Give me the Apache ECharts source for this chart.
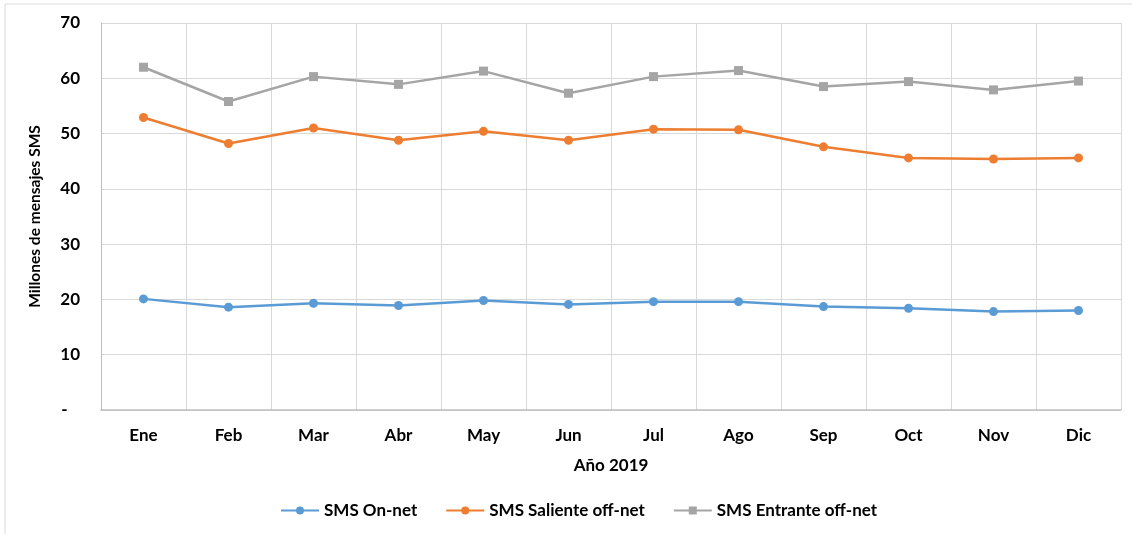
<!DOCTYPE html>
<html>
<head>
<meta charset="utf-8">
<script src="https://cdn.jsdelivr.net/npm/echarts@6/dist/echarts.min.js"></script>
<style>
  html, body { margin: 0; padding: 0; background: #fff; }
  #main { width: 1132px; height: 534px; }
</style>
</head>
<body>
<div id="main"></div>
<script>
const chart = echarts.init(document.getElementById("main"));

// datos
const months = ["Ene", "Feb", "Mar", "Abr", "May", "Jun", "Jul", "Ago", "Sep", "Oct", "Nov", "Dic"];
const smsOnNet = [20.1, 18.6, 19.3, 18.9, 19.8, 19.1, 19.6, 19.6, 18.7, 18.4, 17.8, 18.0];
const smsSaliente = [52.9, 48.2, 51.0, 48.8, 50.4, 48.8, 50.8, 50.7, 47.6, 45.6, 45.4, 45.6];
const smsEntrante = [62.0, 55.8, 60.3, 58.9, 61.3, 57.3, 60.3, 61.4, 58.5, 59.4, 57.9, 59.5];

const font = "Lato, 'Open Sans', sans-serif";

function serie(name, data, color, symbol, size) {
    return {
        name: name,
        type: "line",
        data: data,
        symbol: symbol,
        symbolSize: size,
        lineStyle: { color: color, width: 2.5 },
        itemStyle: { color: color },
        emphasis: { disabled: true }
    };
}

let option = {
    animation: false,
    textStyle: { fontFamily: font },
    graphic: [
        {
            type: "rect",
            shape: { x: 5, y: 4, width: 1140, height: 540 },
            style: { fill: "none", stroke: "#d9d9d9", lineWidth: 1 }
        }
    ],
    grid: { left: 101, right: 11, top: 23, bottom: 124 },
    legend: {
        left: 275,
        top: 497,
        itemWidth: 38,
        itemHeight: 10,
        itemGap: 28,
        textStyle: { fontFamily: font, fontWeight: "bold", fontSize: 17, color: "#000" },
        data: ["SMS On-net", "SMS Saliente off-net", "SMS Entrante off-net"]
    },
    xAxis: {
        type: "category",
        data: months,
        boundaryGap: true,
        name: "Año 2019",
        nameLocation: "middle",
        nameGap: 47,
        nameTextStyle: { fontFamily: font, fontWeight: "bold", fontSize: 17, color: "#000" },
        axisLine: { lineStyle: { color: "#bfbfbf", width: 1.5 } },
        axisTick: { show: false },
        axisLabel: { margin: 17, fontFamily: font, fontWeight: "bold", fontSize: 17, color: "#000" },
        splitLine: { show: true, lineStyle: { color: "#d9d9d9", width: 1 } }
    },
    yAxis: {
        type: "value",
        min: 0,
        max: 70,
        interval: 10,
        name: "Millones de mensajes SMS",
        nameLocation: "middle",
        nameGap: 58,
        nameTextStyle: { fontFamily: font, fontWeight: "bold", fontSize: 15.5, color: "#000" },
        axisLine: { show: true, lineStyle: { color: "#bfbfbf", width: 1 } },
        axisTick: { show: false },
        axisLabel: {
            margin: 21,
            fontFamily: font,
            fontWeight: "bold",
            fontSize: 17,
            color: "#000",
            formatter: (v) => (v === 0 ? "-   " : v)
        },
        splitLine: { show: true, lineStyle: { color: "#d9d9d9", width: 1 } }
    },
    series: [
        serie("SMS On-net", smsOnNet, "#5b9bd5", "circle", 9),
        serie("SMS Saliente off-net", smsSaliente, "#ed7d31", "circle", 9),
        serie("SMS Entrante off-net", smsEntrante, "#a5a5a5", "rect", 9)
    ]
};

chart.setOption(option);

window.onresize = function () {
    chart.resize();
};
</script>
</body>
</html>
